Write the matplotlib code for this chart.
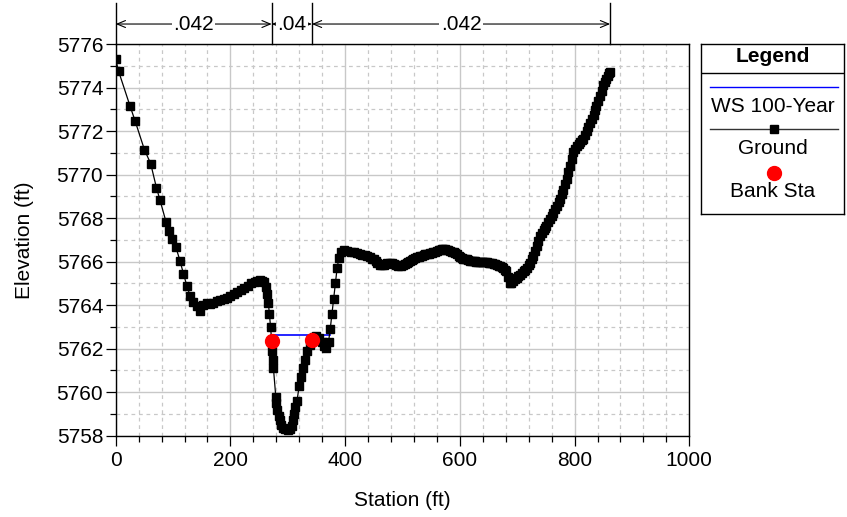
import matplotlib
matplotlib.use('Agg')
import matplotlib.pyplot as plt
from matplotlib.ticker import MultipleLocator

plt.rcParams['font.family'] = ['Liberation Sans', 'DejaVu Sans']

# ---------------- data ----------------
ground_sta = [0, 5, 25, 34, 50, 61, 71, 77, 88, 93, 99, 105, 112, 118, 124, 130,
              135, 141, 147, 153, 159, 164, 170, 176, 182, 188, 194, 200, 206, 212,
              218, 224, 230, 236, 242, 247, 251, 255, 259, 262, 264, 266, 268, 270,
              272, 273, 274, 275, 279, 280, 282, 284, 286, 289, 292, 296, 300, 304,
              307, 309, 311, 313, 316, 320, 323, 326, 330, 334, 338, 342, 346, 350,
              355, 359, 363, 367, 371, 374, 377, 380, 383, 386, 389, 393, 398, 404,
              410, 416, 421, 426, 430, 434, 438, 443, 447, 450, 453, 456, 461, 464,
              467, 470, 473, 478, 482, 485, 489, 493, 497, 500, 504, 507, 510, 513,
              516, 519, 522, 525, 528, 531, 534, 537, 540, 543, 546, 548, 551, 554,
              557, 560, 563, 566, 569, 571, 574, 577, 580, 583, 586, 589, 592, 595,
              598, 601, 604, 606, 609, 612, 615, 618, 621, 624, 627, 629, 632, 635,
              638, 641, 644, 647, 650, 653, 656, 659, 662, 665, 668, 670, 673, 676,
              679, 681, 684, 687, 690, 693, 696, 699, 702, 705, 708, 711, 714, 717,
              720, 722, 725, 728, 731, 734, 737, 740, 743, 746, 749, 751, 754, 757,
              760, 763, 766, 769, 772, 775, 778, 780, 783, 786, 789, 792, 795, 798,
              801, 804, 807, 810, 813, 815, 818, 821, 824, 827, 830, 833, 836, 838,
              841, 844, 847, 850, 853, 855, 858, 860, 862]
ground_elev = [5775.3, 5774.75, 5773.15, 5772.45, 5771.15, 5770.5, 5769.4, 5768.85,
               5767.8, 5767.4, 5767.05, 5766.65, 5766.05, 5765.45, 5764.9, 5764.4,
               5764.15, 5763.95, 5763.75, 5764.0, 5764.1, 5764.05, 5764.1, 5764.2,
               5764.25, 5764.3, 5764.35, 5764.4, 5764.5, 5764.6, 5764.7, 5764.8,
               5764.9, 5765.0, 5765.05, 5765.12, 5765.15, 5765.12, 5765.05, 5764.85,
               5764.5, 5764.1, 5763.6, 5763.0, 5762.35, 5761.9, 5761.5, 5761.1,
               5759.8, 5759.5, 5759.2, 5758.9, 5758.7, 5758.5, 5758.35, 5758.3,
               5758.25, 5758.3, 5758.45, 5758.7, 5759.0, 5759.3, 5759.6, 5760.3,
               5760.7, 5761.1, 5761.5, 5761.9, 5762.15, 5762.4, 5762.55, 5762.6,
               5762.5, 5762.3, 5762.1, 5762.05, 5762.3, 5762.9, 5763.6, 5764.3,
               5765.0, 5765.7, 5766.15, 5766.45, 5766.55, 5766.5,
               5766.45, 5766.42, 5766.38, 5766.34, 5766.32, 5766.3, 5766.25, 5766.19,
               5766.14, 5766.1, 5766.02, 5765.95, 5765.83, 5765.84,
               5765.85, 5765.9, 5765.95, 5765.95, 5765.93, 5765.9, 5765.85, 5765.8,
               5765.82, 5765.85, 5765.9, 5765.95, 5766.0, 5766.03,
               5766.06, 5766.1, 5766.15, 5766.2, 5766.23, 5766.26, 5766.28, 5766.3,
               5766.33, 5766.35, 5766.37, 5766.38, 5766.4, 5766.42,
               5766.46, 5766.5, 5766.53, 5766.55, 5766.56, 5766.57, 5766.56, 5766.55,
               5766.52, 5766.48, 5766.45, 5766.42, 5766.38, 5766.35,
               5766.28, 5766.22, 5766.18, 5766.14, 5766.12, 5766.1, 5766.08, 5766.05,
               5766.04, 5766.02, 5766.01, 5766.0, 5765.99, 5765.98,
               5765.97, 5765.97, 5765.96, 5765.96, 5765.95, 5765.95, 5765.93, 5765.9,
               5765.88, 5765.85, 5765.82, 5765.8, 5765.75, 5765.7,
               5765.63, 5765.57, 5765.3, 5765.03, 5765.0, 5765.1, 5765.18, 5765.26,
               5765.33, 5765.4, 5765.48, 5765.55, 5765.63, 5765.72,
               5765.85, 5765.95, 5766.1, 5766.26, 5766.48, 5766.7, 5766.95, 5767.18,
               5767.32, 5767.45, 5767.56, 5767.64, 5767.8, 5767.95,
               5768.1, 5768.25, 5768.4, 5768.55, 5768.72, 5768.88, 5769.1, 5769.3,
               5769.55, 5769.8, 5770.1, 5770.4, 5770.7, 5771.03,
               5771.18, 5771.3, 5771.4, 5771.5, 5771.58, 5771.65, 5771.82, 5772.0,
               5772.18, 5772.35, 5772.55, 5772.72, 5772.95, 5773.15,
               5773.38, 5773.6, 5773.85, 5774.1, 5774.25, 5774.4, 5774.55, 5774.65,
               5774.7]
bank_sta = [272, 342]
bank_elev = [5762.35, 5762.4]
ws_sta = [270, 374]
ws_elev = [5762.63, 5762.63]
n_break_sta = [0, 272, 342, 862]
n_values = ['.042', '.04', '.042']

legend_labels = ['WS 100-Year', 'Ground', 'Bank Sta']

FS = 15

# ---------------- figure ----------------
fig = plt.figure(figsize=(8.47, 5.17), dpi=100)
ax = fig.add_axes([115.7 / 847, (517 - 435.7) / 517, (689.3 - 115.7) / 847, 391.7 / 517])

ax.plot(ws_sta, ws_elev, color='#0000ff', lw=1.2, zorder=3)
ax.plot(ground_sta, ground_elev, color='black', lw=0.9, marker='s', ms=5.8,
        mfc='black', mec='black', zorder=4)
ax.plot(bank_sta, bank_elev, ls='none', marker='o', ms=10, color='#ff0000',
        mec='#ff0000', zorder=5)

ax.set_xlim(0, 1000)
ax.set_ylim(5758, 5776)
ax.xaxis.set_major_locator(MultipleLocator(200))
ax.xaxis.set_minor_locator(MultipleLocator(40))
ax.yaxis.set_major_locator(MultipleLocator(2))
ax.yaxis.set_minor_locator(MultipleLocator(1))
ax.grid(which='major', color='#c8c8c8', lw=1.0, ls='-', zorder=0)
ax.grid(which='minor', color='#c8c8c8', lw=0.9, ls=(0, (3, 3)), zorder=0)
ax.set_axisbelow(True)
ax.tick_params(which='major', direction='out', length=7, width=0.9,
               labelsize=FS, pad=2, colors='black')
ax.tick_params(which='minor', direction='out', length=4.5, width=0.9)
ax.tick_params(axis='x', which='major', pad=4)
for s in ax.spines.values():
    s.set_linewidth(1.0)
    s.set_color('black')

ax.set_xlabel('Station (ft)', fontsize=FS, labelpad=15)
ax.set_ylabel('Elevation (ft)', fontsize=FS, labelpad=16)

# n-value annotations above the plot
trans = ax.get_xaxis_transform()
for s in n_break_sta:
    ax.plot([s, s], [1.0, 1.105], transform=trans, color='black', lw=1.0,
            clip_on=False)
for i, nv in enumerate(n_values):
    a, b = n_break_sta[i], n_break_sta[i + 1]
    ax.annotate('', xy=(a, 1.051), xytext=(b, 1.051), xycoords=trans,
                textcoords=trans,
                arrowprops=dict(arrowstyle='<->,head_length=0.6,head_width=0.25',
                                color='black', lw=0.8, shrinkA=0, shrinkB=0))
    ax.text((a + b) / 2, 1.049, nv, transform=trans, ha='center', va='center',
            fontsize=FS, bbox=dict(facecolor='white', edgecolor='none', pad=1.0))

# ---------------- legend box ----------------
lax = fig.add_axes([701 / 847, (517 - 214) / 517, 143 / 847, 170 / 517])
lax.set_xlim(0, 1)
lax.set_ylim(0, 1)
lax.set_xticks([])
lax.set_yticks([])
for s in lax.spines.values():
    s.set_linewidth(1.0)
    s.set_color('black')
lax.text(0.5, 0.925, 'Legend', ha='center', va='center', fontsize=FS,
         fontweight='bold')
lax.plot([0, 1], [0.828, 0.828], color='black', lw=1.0)
lax.plot([0.063, 0.958], [0.745, 0.745], color='#0000ff', lw=1.0)
lax.text(0.5, 0.631, legend_labels[0], ha='center', va='center', fontsize=FS)
lax.plot([0.063, 0.958], [0.498, 0.498], color='#333333', lw=1.0)
lax.plot([0.51], [0.498], marker='s', ms=5.5, color='black')
lax.text(0.5, 0.388, legend_labels[1], ha='center', va='center', fontsize=FS)
lax.plot([0.51], [0.243], marker='o', ms=10, color='#ff0000')
lax.text(0.5, 0.131, legend_labels[2], ha='center', va='center', fontsize=FS)

fig.savefig('out.png', dpi=100)
